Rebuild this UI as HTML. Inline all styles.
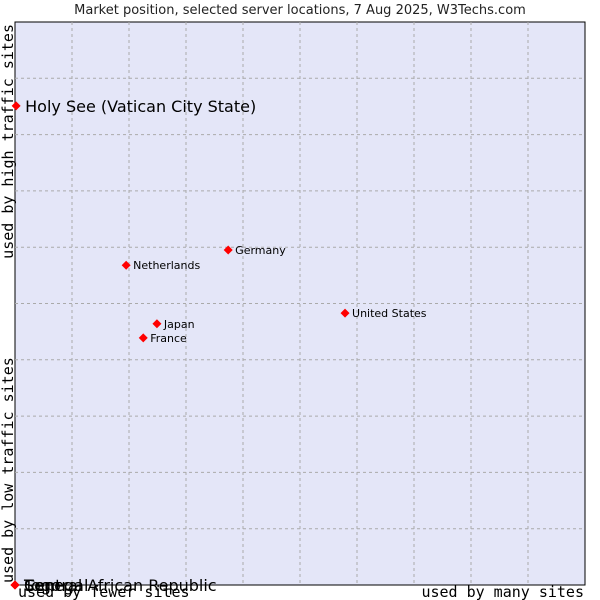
<!DOCTYPE html>
<html><head><meta charset="utf-8"><style>
body{margin:0;background:#fff;}
svg{display:block;font-family:"DejaVu Sans","Liberation Sans",sans-serif;}
</style></head><body>
<svg id="chart" width="600" height="600" viewBox="0 0 600 600" xmlns="http://www.w3.org/2000/svg">
<text x="300" y="14" text-anchor="middle" font-size="13" fill="#222">Market position, selected server locations, 7 Aug 2025, W3Techs.com</text>
<rect x="15" y="22" width="570" height="563" fill="#e4e6f8" stroke="#000" stroke-width="1"/>
<g id="grid"></g>
<g id="points"></g>
<text x="18" y="597" font-family="DejaVu Sans Mono,Liberation Mono,monospace" font-size="15" fill="#000">used by fewer sites</text>
<text x="584" y="597" text-anchor="end" font-family="DejaVu Sans Mono,Liberation Mono,monospace" font-size="15" fill="#000">used by many sites</text>
<text transform="translate(13,583) rotate(-90)" font-family="DejaVu Sans Mono,Liberation Mono,monospace" font-size="15" fill="#000">used by low traffic sites</text>
<text transform="translate(13,24) rotate(-90)" text-anchor="end" font-family="DejaVu Sans Mono,Liberation Mono,monospace" font-size="15" fill="#000">used by high traffic sites</text>
</svg>
<script>
const names=["Holy See (Vatican City State)","Germany","Netherlands","United States","Japan","France","Central African Republic","Senegal","Togo"];
const xValues=[0.2,37.4,19.5,57.9,24.9,22.5,0,0,0];
const yValues=[85.1,59.5,56.8,48.3,46.4,43.9,0,0,0];
const bigLabel=[true,false,false,false,false,false,true,true,true];
const L=15,T=22,W=570,H=563;
const sx=v=>L+v/100*W, sy=v=>T+H-v/100*H;
const NS="http://www.w3.org/2000/svg";
const g=document.getElementById('grid');
for(let i=1;i<10;i++){
  const a=document.createElementNS(NS,'line');
  
  
  a.setAttribute('x1',sx(i*10));a.setAttribute('x2',sx(i*10));a.setAttribute('y1',T);a.setAttribute('y2',T+H);
  a.setAttribute('stroke','#aaa');a.setAttribute('stroke-dasharray','3,3');g.appendChild(a);
  const b=document.createElementNS(NS,'line');
  
  
  b.setAttribute('y1',sy(i*10));b.setAttribute('y2',sy(i*10));b.setAttribute('x1',L);b.setAttribute('x2',L+W);
  b.setAttribute('stroke','#aaa');b.setAttribute('stroke-dasharray','3,3');g.appendChild(b);
}
const p=document.getElementById('points');
names.forEach((n,i)=>{
  const x=sx(xValues[i]),y=sy(yValues[i]);
  const d=document.createElementNS(NS,'polygon');
  
  
  d.setAttribute('points',`${x},${y-4.5} ${x+4.5},${y} ${x},${y+4.5} ${x-4.5},${y}`);
  d.setAttribute('fill','#f00');p.appendChild(d);
  const t=document.createElementNS(NS,'text');
  
  
  t.setAttribute('x',x+(bigLabel[i]?9:7));t.setAttribute('y',y+(bigLabel[i]?6:4));
  t.setAttribute('font-size',bigLabel[i]?'16':'11');t.setAttribute('fill','#000');
  t.textContent=n;p.appendChild(t);
});
</script>
</body></html>
